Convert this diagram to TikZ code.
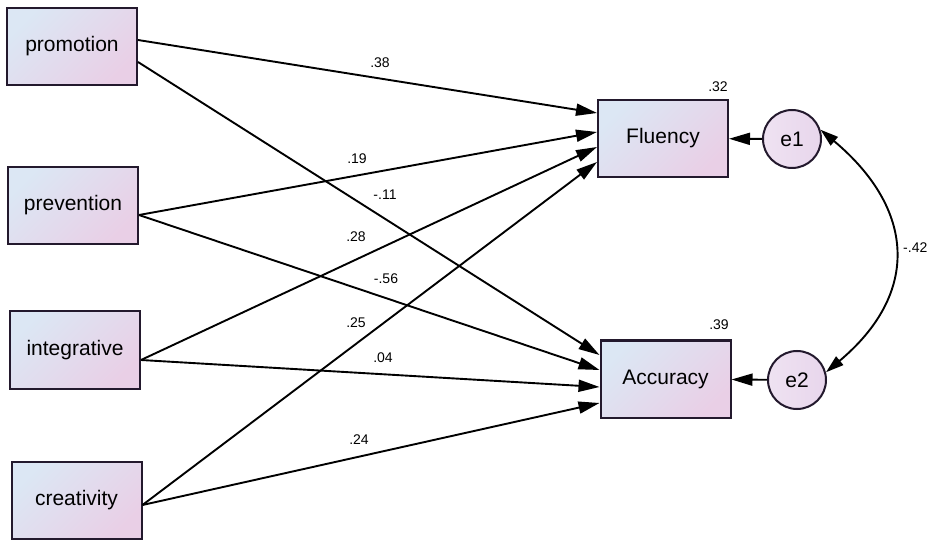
\documentclass[tikz,border=0pt]{standalone}
\usepackage{fontspec}
\setmainfont{Liberation Sans}
\usetikzlibrary{arrows.meta}

\definecolor{boxcyan}{RGB}{214,241,250}
\definecolor{boxpink}{RGB}{233,207,230}
\definecolor{framecol}{RGB}{35,25,45}
\definecolor{errfill}{RGB}{232,214,236}

\tikzset{obsbox/.style={draw=framecol,line width=2pt,minimum width=130pt,minimum height=77pt,inner sep=0pt,
    left color=boxcyan!70!boxpink,right color=boxpink,shading angle=45,font=\fontsize{21}{25}\selectfont},
  errcirc/.style={circle,draw=framecol,line width=2pt,minimum size=58pt,inner sep=0pt,
    left color=errfill!70!white,right color=errfill,font=\fontsize{21}{25}\selectfont},
  coef/.style={font=\fontsize{14}{16}\selectfont,inner sep=0pt},
  regarrow/.style={line width=1.9pt,-{Triangle[length=21pt,width=12pt]}},
  covarrow/.style={line width=1.9pt,{Triangle[length=18pt,width=11pt]}-{Triangle[length=18pt,width=11pt]}}}

\begin{document}
\begin{tikzpicture}[x=1pt,y=1pt]
    \useasboundingbox (0,0) rectangle (935,539);
    % observed variables
    \node[obsbox] (promotion) at (72,492.5) {promotion};
    \node[obsbox] (prevention) at (73,333.5) {prevention};
    \node[obsbox] (integrative) at (75,189) {integrative};
    \node[obsbox] (creativity) at (76.5,38.5) {creativity};
    \node[obsbox] (fluency) at (663,400.5) {Fluency};
    \node[obsbox] (accuracy) at (665.5,160) {Accuracy};
    % errors
    \node[errcirc] (e1) at (792,400) {e1};
    \node[errcirc] (e2) at (797,159) {e2};
    % paths
    \draw[regarrow] ([yshift=6.5pt]promotion.east) -- ([yshift=25.5pt]fluency.west);
    \draw[regarrow] ([yshift=-15.5pt]promotion.east) -- ([yshift=24pt]accuracy.west);
    \draw[regarrow] ([yshift=-9.5pt]prevention.east) -- ([yshift=6.5pt]fluency.west);
    \draw[regarrow] ([yshift=-9.5pt]prevention.east) -- ([yshift=9pt]accuracy.west);
    \draw[regarrow] ([yshift=-10pt]integrative.east) -- ([yshift=-8.5pt]fluency.west);
    \draw[regarrow] ([yshift=-10pt]integrative.east) -- ([yshift=-8pt]accuracy.west);
    \draw[regarrow] ([yshift=-4.5pt]creativity.east) -- ([yshift=-23.5pt]fluency.west);
    \draw[regarrow] ([yshift=-4.5pt]creativity.east) -- ([yshift=-24pt]accuracy.west);
    \draw[regarrow] (e1) -- (fluency);
    \draw[regarrow] (e2) -- (accuracy);
    \draw[covarrow] (e1.18) to[out=-40,in=40,looseness=1.3] (e2.15);
    % estimates
    \node[coef] (c1) at (380,476) {.38};
    \node[coef] (c2) at (385,344) {-.11};
    \node[coef] (c3) at (357,380) {.19};
    \node[coef] (c4) at (386,260) {-.56};
    \node[coef] (c5) at (356,302) {.28};
    \node[coef] (c6) at (383,181) {.04};
    \node[coef] (c7) at (356,216) {.25};
    \node[coef] (c8) at (359,99) {.24};
    \node[coef] (r1) at (718,452) {.32};
    \node[coef] (r2) at (719,214) {.39};
    \node[coef,anchor=west] (r12) at (903,291) {-.42};
\end{tikzpicture}
\end{document}
